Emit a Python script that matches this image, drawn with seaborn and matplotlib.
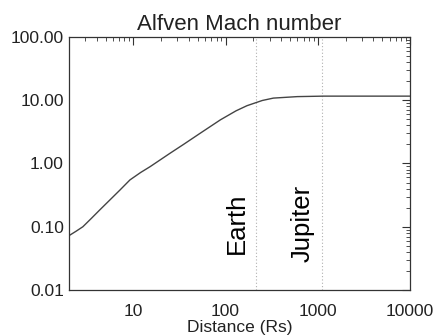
import matplotlib
matplotlib.use("Agg")
import matplotlib.pyplot as plt
import seaborn as sns
import pandas as pd
from matplotlib.ticker import FixedLocator, FixedFormatter, LogLocator, NullFormatter

distance = [2.0, 2.4, 2.84, 3.5, 4.34, 5.5, 7.16, 9.2, 12, 15.2, 25, 35, 53, 88,
            130, 171, 250, 330, 600, 1150, 3000, 10000]
mach = [0.072, 0.085, 0.10, 0.135, 0.185, 0.26, 0.38, 0.55, 0.72, 0.89, 1.45, 2.0,
        3.0, 4.9, 6.8, 8.2, 9.9, 10.8, 11.4, 11.6, 11.6, 11.6]

planets = ["Earth", "Jupiter"]
planet_dist = [215, 1118]
label_y = [0.037, 0.028]

xticks = [10, 100, 1000, 10000]
xticklabels = ["10", "100", "1000", "10000"]
yticks = [0.01, 0.1, 1, 10, 100]
yticklabels = ["0.01", "0.10", "1.00", "10.00", "100.00"]

sns.set_theme(style="white")
plt.rcParams['font.family'] = ['Liberation Sans', 'DejaVu Sans']

df = pd.DataFrame({"Distance": distance, "Mach": mach})

fig = plt.figure(figsize=(4.33, 3.36), dpi=100)
ax = fig.add_axes([0.159, 0.137, 0.788, 0.753])

ax.set_xscale("log")
ax.set_yscale("log")
sns.lineplot(data=df, x="Distance", y="Mach", ax=ax, color="#444444", linewidth=1.0)

for name, d, ly in zip(planets, planet_dist, label_y):
    ax.axvline(d, color="#b0b0b0", linestyle=(0, (1, 2)), linewidth=0.8, zorder=0)
    ax.text(d * 0.83, ly, name, rotation=90, ha="right", va="bottom",
            fontsize=18.5, color="black")

ax.set_xlim(2, 10000)
ax.set_ylim(0.01, 100)
ax.xaxis.set_major_locator(FixedLocator(xticks))
ax.xaxis.set_major_formatter(FixedFormatter(xticklabels))
ax.yaxis.set_major_locator(FixedLocator(yticks))
ax.yaxis.set_major_formatter(FixedFormatter(yticklabels))
ax.xaxis.set_minor_locator(LogLocator(base=10, subs=range(2, 10)))
ax.yaxis.set_minor_locator(LogLocator(base=10, subs=range(2, 10)))
ax.xaxis.set_minor_formatter(NullFormatter())
ax.yaxis.set_minor_formatter(NullFormatter())

ax.tick_params(which="both", direction="in", top=True, right=True, colors="#333333",
               labelcolor="#222222")
ax.tick_params(which="major", length=6, width=0.8, labelsize=12.5)
ax.tick_params(axis="x", which="major", pad=10)
ax.tick_params(which="minor", length=3, width=0.6)
for s in ax.spines.values():
    s.set_color("#333333")
    s.set_linewidth(0.9)

ax.set_title("Alfven Mach number", fontsize=16, color="#222222", pad=5)
ax.set_xlabel("Distance (Rs)", fontsize=12.5, color="#222222", labelpad=1)
ax.set_ylabel("")

fig.savefig("out.png", dpi=100)
